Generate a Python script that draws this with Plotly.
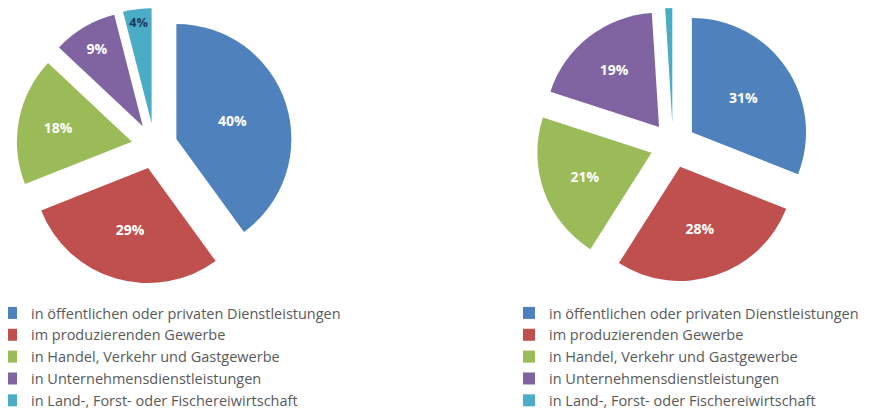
import plotly.graph_objects as go

# ---- data ----
categories = [
    "in öffentlichen oder privaten Dienstleistungen",
    "im produzierenden Gewerbe",
    "in Handel, Verkehr und Gastgewerbe",
    "in Unternehmensdienstleistungen",
    "in Land-, Forst- oder Fischereiwirtschaft",
]
left_values = [40, 29, 18, 9, 4]
right_values = [31, 28, 21, 19, 1]
left_text = ["40%", "29%", "18%", "9%", "4%"]
right_text = ["31%", "28%", "21%", "19%", ""]

colors = ["#4F81BD", "#C0504D", "#9BBB59", "#8064A2", "#4BACC6"]
left_text_colors = ["white", "white", "white", "white", "#1F3A5C"]
right_text_colors = ["white", "white", "white", "white", "white"]

W, H = 870, 412
PULL = 0.2

# the right-hand chart gets its own legend; a trailing space keeps its
# labels distinct from the left chart's so both legends are drawn
right_categories = [c + " " for c in categories]


def square_domain(cx, cy_top, size):
    """domain (paper fractions) of a square box centred at pixel (cx, cy_top)."""
    x0, x1 = (cx - size / 2) / W, (cx + size / 2) / W
    y0, y1 = (H - cy_top - size / 2) / H, (H - cy_top + size / 2) / H
    return dict(x=[max(0, x0), min(1, x1)], y=[max(0, y0), min(1, y1)])


fig = go.Figure()

fig.add_trace(go.Pie(
    labels=categories, values=left_values, text=left_text,
    textinfo="text", textposition="inside", insidetextorientation="horizontal",
    sort=False, direction="clockwise", rotation=0,
    pull=[PULL] * len(left_values),
    marker=dict(colors=colors, line=dict(width=0)),
    insidetextfont=dict(family="Open Sans", size=14, color=left_text_colors, weight="bold"),
    domain=square_domain(146.5, 138, 276),
    legend="legend", hoverinfo="label+percent", name="links",
))

fig.add_trace(go.Pie(
    labels=right_categories, values=right_values, text=right_text,
    textinfo="text", textposition="inside", insidetextorientation="horizontal",
    sort=False, direction="clockwise", rotation=0,
    pull=[PULL] * len(right_values),
    marker=dict(colors=colors, line=dict(width=0)),
    insidetextfont=dict(family="Open Sans", size=14, color=right_text_colors, weight="bold"),
    domain=square_domain(665, 137, 274),
    legend="legend2", hoverinfo="label+percent", name="rechts",
))

legend_common = dict(
    font=dict(family="Open Sans", size=14.5, color="#595959"),
    bgcolor="rgba(0,0,0,0)", borderwidth=0,
    xanchor="left", yanchor="top", orientation="v",
    traceorder="normal",
)

fig.update_layout(
    width=W, height=H,
    margin=dict(l=0, r=0, t=0, b=0, autoexpand=False),
    paper_bgcolor="white", plot_bgcolor="white",
    showlegend=True,
    legend=dict(x=-17 / W, y=(H - 289) / H, **legend_common),
    legend2=dict(x=501 / W, y=(H - 289) / H, **legend_common),
)

fig.write_html("out.html")
